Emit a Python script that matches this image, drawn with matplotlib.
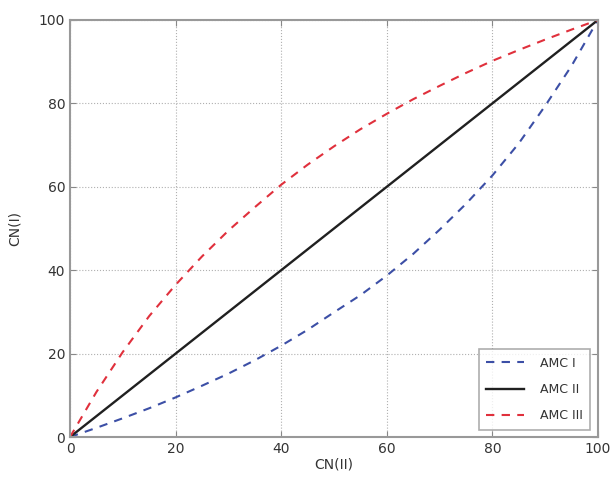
import matplotlib
matplotlib.use("Agg")
import matplotlib.pyplot as plt

cn2 = [0, 5, 10, 15, 20, 25, 30, 35, 40, 45, 50, 55, 60, 65, 70, 75, 80, 85, 90, 95, 100]
amc1 = [0, 2.2, 4.5, 6.9, 9.5, 12.3, 15.2, 18.4, 21.9, 25.7, 29.9, 34.0, 38.7, 43.9, 49.7, 55.9, 62.7, 70.4, 79.4, 89.0, 100]
amc3 = [0, 10.8, 20.4, 29.0, 36.5, 43.3, 49.5, 55.1, 60.5, 65.3, 69.7, 73.8, 77.5, 81.0, 84.2, 87.3, 90.2, 92.8, 95.3, 97.7, 100]
amc2 = cn2[:]
labels = ["AMC I", "AMC II", "AMC III"]
ticks = [0, 20, 40, 60, 80, 100]

fig = plt.figure(figsize=(6.11, 4.83), dpi=100)
ax = fig.add_axes([0.1146, 0.0952, 0.864, 0.8634])
ax.plot(cn2, amc1, linestyle="--", color="#3c4fa6", lw=1.5, label=labels[0], dashes=(4, 3.5))
ax.plot(cn2, amc2, linestyle="-", color="#202020", lw=1.7, label=labels[1])
ax.plot(cn2, amc3, linestyle="--", color="#e0303c", lw=1.5, label=labels[2], dashes=(4, 3.5))
ax.set_xlim(0, 100)
ax.set_ylim(0, 100)
ax.set_xticks(ticks)
ax.set_yticks(ticks)
ax.grid(True, linestyle=":", color="#b0b0b0", lw=0.8)
ax.tick_params(direction="in", length=4, color="#888888", labelsize=10, labelcolor="#333333", top=True, right=True)
for s in ax.spines.values():
    s.set_color("#999999")
    s.set_linewidth(1.5)
ax.set_xlabel("CN(II)", fontsize=10, color="#333333", labelpad=1)
ax.set_ylabel("CN(I)", fontsize=10, color="#333333", labelpad=12)
leg = ax.legend(loc="lower right", fontsize=9, frameon=True, fancybox=False, handlelength=3.0,
                handletextpad=1.3, borderpad=0.6, labelspacing=1.05, borderaxespad=0.6)
leg.get_frame().set_edgecolor("#999999")
leg.get_frame().set_linewidth(1.2)
for t in leg.get_texts():
    t.set_color("#333333")
fig.savefig("out.png", dpi=100)
